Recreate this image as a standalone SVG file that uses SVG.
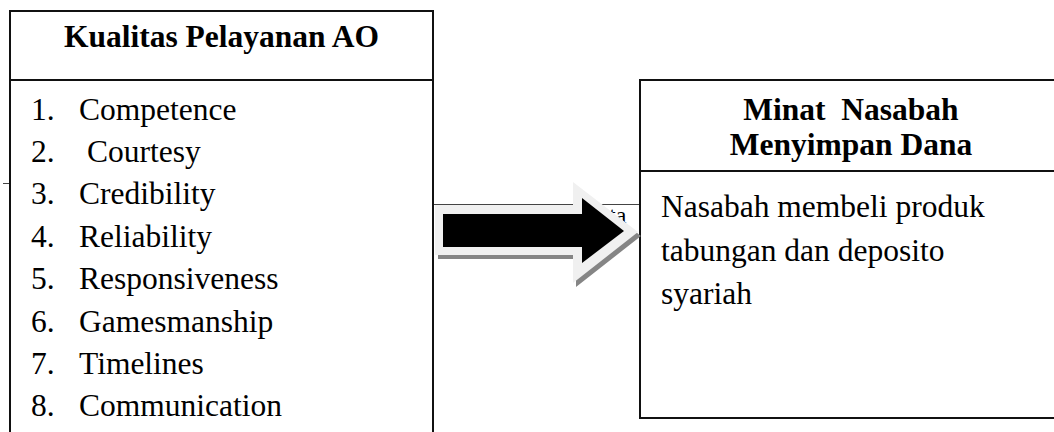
<svg xmlns="http://www.w3.org/2000/svg" width="1054" height="432" viewBox="0 0 1054 432">
  <style>
    .box { fill: #fff; stroke: #111; stroke-width: 2; }
    .rule { stroke: #111; stroke-width: 2; }
    .title { font-family: "Liberation Serif", "Times New Roman", serif; font-weight: bold; font-size: 31.5px; fill: #000; text-anchor: middle; white-space: pre; }
    .body { font-family: "Liberation Serif", "Times New Roman", serif; font-size: 31.5px; fill: #000; white-space: pre; }
    .frag { stroke: #444; stroke-width: 1; }
  </style>

  <rect width="1054" height="432" fill="#fff"/>

  <!-- leftover page lines behind the boxes -->
  <g id="background">
    <line class="frag" x1="3" y1="183.5" x2="9" y2="183.5"/>
    <line class="frag" x1="433" y1="204.5" x2="640" y2="204.5"/>
    <text class="body" x="609" y="223" style="font-size:24px">ta</text>
  </g>

  <!-- source: service quality -->
  <g id="node-kualitas">
    <rect class="box" x="10" y="11" width="423" height="440"/>
    <line class="rule" x1="10" y1="80" x2="433" y2="80"/>
    <text class="title" x="221.5" y="47">Kualitas Pelayanan AO</text>
    <g class="body">
      <text x="31" y="119.5">1.</text><text x="79" y="119.5">Competence</text>
      <text x="31" y="162">2.</text><text x="87" y="162">Courtesy</text>
      <text x="31" y="204">3.</text><text x="79" y="204">Credibility</text>
      <text x="31" y="246.5">4.</text><text x="79" y="246.5">Reliability</text>
      <text x="31" y="289">5.</text><text x="79" y="289">Responsiveness</text>
      <text x="31" y="331.5">6.</text><text x="79" y="331.5">Gamesmanship</text>
      <text x="31" y="374">7.</text><text x="79" y="374">Timelines</text>
      <text x="31" y="416">8.</text><text x="79" y="416">Communication</text>
    </g>
  </g>

  <!-- target: customer interest -->
  <g id="node-minat">
    <rect class="box" x="640" y="80" width="422" height="338"/>
    <line class="rule" x1="640" y1="171" x2="1062" y2="171"/>
    <text class="title" x="851" y="120">Minat  Nasabah</text>
    <text class="title" x="851" y="155">Menyimpan Dana</text>
    <g class="body">
      <text x="661" y="217">Nasabah membeli produk</text>
      <text x="661" y="261">tabungan dan deposito</text>
      <text x="661" y="304">syariah</text>
    </g>
  </g>

  <!-- block arrow with light rim and drop shadow -->
  <g id="connectors">
    <polygon points="438,209 576,209 576,186 641,236 576,287 576,259 438,259" fill="#858585"/>
    <polygon points="435,205 573,205 573,182 638,232 573,283 573,255 435,255" fill="#f0f0f0"/>
    <polygon points="443,214 582,214 582,198 624,231 582,263 582,247 443,247" fill="#000"/>
  </g>
</svg>
